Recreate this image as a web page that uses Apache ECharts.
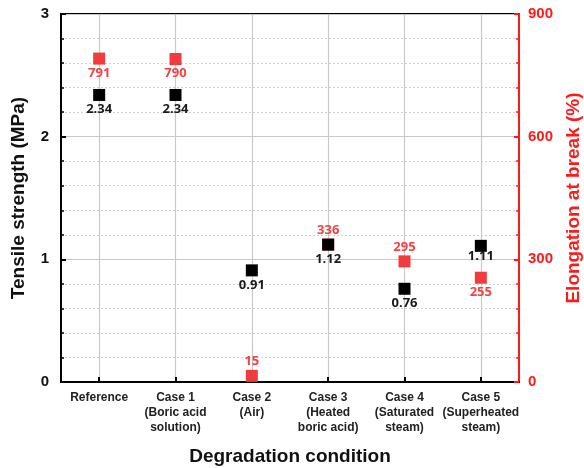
<!DOCTYPE html>
<html>
<head>
<meta charset="utf-8">
<style>
  html, body { margin: 0; padding: 0; background: #fff; }
  #chart { width: 584px; height: 468px; }
</style>
<script src="https://cdn.jsdelivr.net/npm/echarts@6/dist/echarts.min.js"></script>
</head>
<body>
<div id="chart"></div>
<script>
// Degradation conditions on the x axis
const categories = [
  'Reference',
  'Case 1\n(Boric acid\nsolution)',
  'Case 2\n(Air)',
  'Case 3\n(Heated\nboric acid)',
  'Case 4\n(Saturated\nsteam)',
  'Case 5\n(Superheated\nsteam)'
];
// Tensile strength (MPa), left axis
const tensileStrength = [2.34, 2.34, 0.91, 1.12, 0.76, 1.11];
// Elongation at break (%), right axis
const elongation = [791, 790, 15, 336, 295, 255];

// Where each value label sits relative to its marker
const tensileLabelPos = ['bottom', 'bottom', 'bottom', 'bottom', 'bottom', 'bottom'];
const elongLabelPos = ['bottom', 'bottom', 'top', 'top', 'top', 'bottom'];

const RED = '#f03c3c';
const RED_TEXT = '#f04444';
const AXIS_RED = '#ff1a1a';

const chart = echarts.init(document.getElementById('chart'));

chart.setOption({
  animation: false,
  grid: {
    left: 61, right: 65, top: 14, bottom: 86,
    outerBoundsMode: 'none',
    containLabel: false,
    show: true, borderColor: '#000', borderWidth: 2
  },
  xAxis: {
    type: 'category',
    data: categories,
    boundaryGap: true,
    name: 'Degradation condition',
    nameLocation: 'middle',
    nameGap: 65,
    nameTextStyle: { fontFamily: 'Liberation Sans', fontWeight: 'bold', fontSize: 19, color: '#111' },
    axisLine: { lineStyle: { color: '#000', width: 2 } },
    axisTick: { show: true, inside: true, alignWithLabel: true, length: 5, lineStyle: { color: '#000', width: 2 } },
    axisLabel: {
      interval: 0, margin: 8,
      fontFamily: 'Liberation Sans', fontWeight: 'bold', fontSize: 12, lineHeight: 15, color: '#222'
    },
    splitLine: { show: true, alignWithLabel: true, lineStyle: { color: '#c8c8c8', width: 1.2 } }
  },
  yAxis: [
    {
      type: 'value',
      min: 0, max: 3, interval: 1,
      name: 'Tensile strength (MPa)',
      nameLocation: 'middle',
      nameGap: 33,
      nameTextStyle: { fontFamily: 'Liberation Sans', fontWeight: 'bold', fontSize: 19, color: '#111' },
      axisLine: { show: true, lineStyle: { color: '#000', width: 2 } },
      axisTick: { show: true, inside: true, length: 5, lineStyle: { color: '#000', width: 2 } },
      minorTick: { show: true, splitNumber: 5, length: 3, lineStyle: { color: '#000', width: 1.5 } },
      axisLabel: { margin: 12, fontFamily: 'Liberation Sans', fontWeight: 'bold', fontSize: 15, color: '#111' },
      splitLine: { show: true, lineStyle: { color: '#c8c8c8', width: 1.2 } },
      minorSplitLine: { show: true, lineStyle: { color: '#d0d0d0', type: [2, 2], width: 1 } }
    },
    {
      type: 'value',
      min: 0, max: 900, interval: 300,
      position: 'right',
      name: 'Elongation at break (%)',
      nameLocation: 'middle',
      nameGap: 44,
      nameRotate: 90,
      nameTextStyle: { fontFamily: 'Liberation Sans', fontWeight: 'bold', fontSize: 19, color: AXIS_RED },
      axisLine: { show: true, lineStyle: { color: AXIS_RED, width: 2 } },
      axisTick: { show: true, inside: true, length: 5, lineStyle: { color: AXIS_RED, width: 2 } },
      minorTick: { show: true, splitNumber: 5, length: 3, lineStyle: { color: AXIS_RED, width: 1.5 } },
      axisLabel: { margin: 9, fontFamily: 'Liberation Sans', fontWeight: 'bold', fontSize: 15, color: AXIS_RED },
      splitLine: { show: false }
    }
  ],
  series: [
    {
      name: 'Elongation at break',
      type: 'scatter',
      yAxisIndex: 1,
      symbol: 'rect',
      symbolSize: 12,
      itemStyle: { color: RED, opacity: 1 },
      data: elongation.map((v, i) => ({
        value: v,
        label: { position: elongLabelPos[i] }
      })),
      label: {
        show: true, distance: 2,
        fontFamily: 'Open Sans', fontWeight: 'bold', fontSize: 13, color: RED_TEXT,
        formatter: p => String(p.value)
      },
      z: 3
    },
    {
      name: 'Tensile strength',
      type: 'scatter',
      yAxisIndex: 0,
      symbol: 'rect',
      symbolSize: 12,
      itemStyle: { color: '#000', opacity: 1 },
      data: tensileStrength.map((v, i) => ({
        value: v,
        label: { position: tensileLabelPos[i], distance: i === 5 ? -2 : 2 }
      })),
      label: {
        show: true, distance: 2,
        fontFamily: 'Open Sans', fontWeight: 'bold', fontSize: 13, color: '#1a1a1a',
        formatter: p => p.value.toFixed(2)
      },
      z: 4
    }
  ]
});
</script>
</body>
</html>
